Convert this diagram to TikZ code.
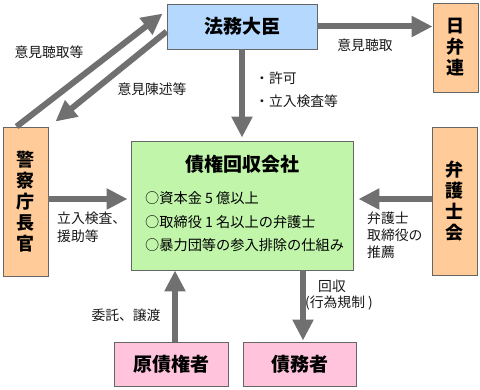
\documentclass[tikz,border=0pt]{standalone}
\usepackage{fontspec}
\setmainfont{Noto Sans CJK JP}
\usetikzlibrary{arrows.meta}
\definecolor{boxblue}{HTML}{B5D8FF}
\definecolor{boxpeach}{HTML}{FFCC99}
\definecolor{boxgreen}{HTML}{C0F5AA}
\definecolor{boxpink}{HTML}{FFC3DB}
\definecolor{arrgray}{HTML}{707070}
\definecolor{edgegray}{HTML}{666666}
\tikzset{
  box/.style={draw=edgegray, line width=0.9pt, inner sep=0pt, align=center},
  title/.style={font=\fontsize{19}{21}\selectfont\bfseries},
  vtitle/.style={font=\fontsize{18}{21}\selectfont\bfseries},
  lbl/.style={font=\fontsize{13.8}{17}\selectfont, inner sep=0pt, text=black!90},
  inbox/.style={font=\fontsize{14.2}{17}\selectfont, inner sep=0pt, anchor=west},
  bigarrow/.style={draw=arrgray, line width=6pt, -{Triangle[length=21pt,width=20pt]}},
}
\begin{document}
\begin{tikzpicture}[x=1pt,y=-1pt]
\useasboundingbox (0,0) rectangle (480,390);
\fill[white] (0,0) rectangle (480,390);
% boxes
\node[box, fill=boxblue, minimum width=150pt, minimum height=45pt, title] (minister) at (242,26.5) {法務大臣};
\node[box, fill=boxpeach, minimum width=45pt, minimum height=89pt, vtitle] (nichiben) at (455.5,47.5) {日\\弁\\連};
\node[box, fill=boxpeach, minimum width=45pt, minimum height=149pt, vtitle] (police) at (25.5,201.5) {警\\察\\庁\\長\\官};
\node[box, fill=boxpeach, minimum width=45pt, minimum height=148pt, vtitle] (bar) at (454.5,201) {弁\\護\\士\\会};
\node[box, fill=boxgreen, minimum width=222pt, minimum height=129pt] (company) at (242,205.5) {};
\node[box, fill=boxpink, minimum width=114pt, minimum height=44pt, title] (creditor) at (171,364) {原債権者};
\node[box, fill=boxpink, minimum width=113pt, minimum height=44pt, title] (debtor) at (299.5,364) {債務者};
% company contents
\node[title, inner sep=0pt] (ctitle) at (242,164) {債権回収会社};
\node[inbox] (c1) at (145,198) {○資本金 5 億以上};
\node[inbox] (c2) at (145,222) {○取締役 1 名以上の弁護士};
\node[inbox] (c3) at (145,245) {○暴力団等の参入排除の仕組み};
% arrows
\draw[bigarrow] (minister.east) -- (minister.east -| nichiben.west);
\draw[bigarrow, shorten >=3pt] (minister.south) -- (company.north);
\draw[bigarrow, shorten >=3pt] ([yshift=2.5pt]police.east) -- ([yshift=2.5pt]police.east -| company.west);
\draw[bigarrow, shorten >=5pt] ([yshift=2pt]bar.west) -- ([yshift=2pt]bar.west -| company.east);
\draw[bigarrow] ([xshift=4pt]creditor.north) -- ([xshift=4pt]creditor.north |- company.south);
\draw[bigarrow, shorten >=1pt] ([xshift=3.5pt]debtor.north |- company.south) -- ([xshift=3.5pt]debtor.north);
\draw[bigarrow] ([xshift=14pt]police.north west) -- ([xshift=-4pt,yshift=-10pt]minister.north west);
\draw[bigarrow] ([yshift=-28pt]minister.north west) -- ([xshift=7pt,yshift=5pt]police.north east);
% labels
\node[lbl] (l1) at (365,45) {意見聴取};
\node[lbl, anchor=west] (l2) at (255,78) {・許可};
\node[lbl, anchor=west] (l3) at (255,101) {・立入検査等};
\node[lbl] (l4) at (49,52) {意見聴取等};
\node[lbl] (l5) at (152,89) {意見陳述等};
\node[lbl, anchor=north west, align=left, font=\fontsize{13.8}{18}\selectfont] (l6) at (57,212) {立入検査、\\援助等};
\node[lbl, anchor=north west, align=left, font=\fontsize{13.8}{17}\selectfont] (l7) at (367,212) {弁護士\\取締役の\\推薦};
\node[lbl] (l8) at (126,315) {委託、譲渡};
\node[lbl, anchor=north west, align=left, font=\fontsize{13.8}{15.5}\selectfont] (l9) at (305,280) {\hspace{13pt}回収\\(行為規制 )};
\end{tikzpicture}
\end{document}
